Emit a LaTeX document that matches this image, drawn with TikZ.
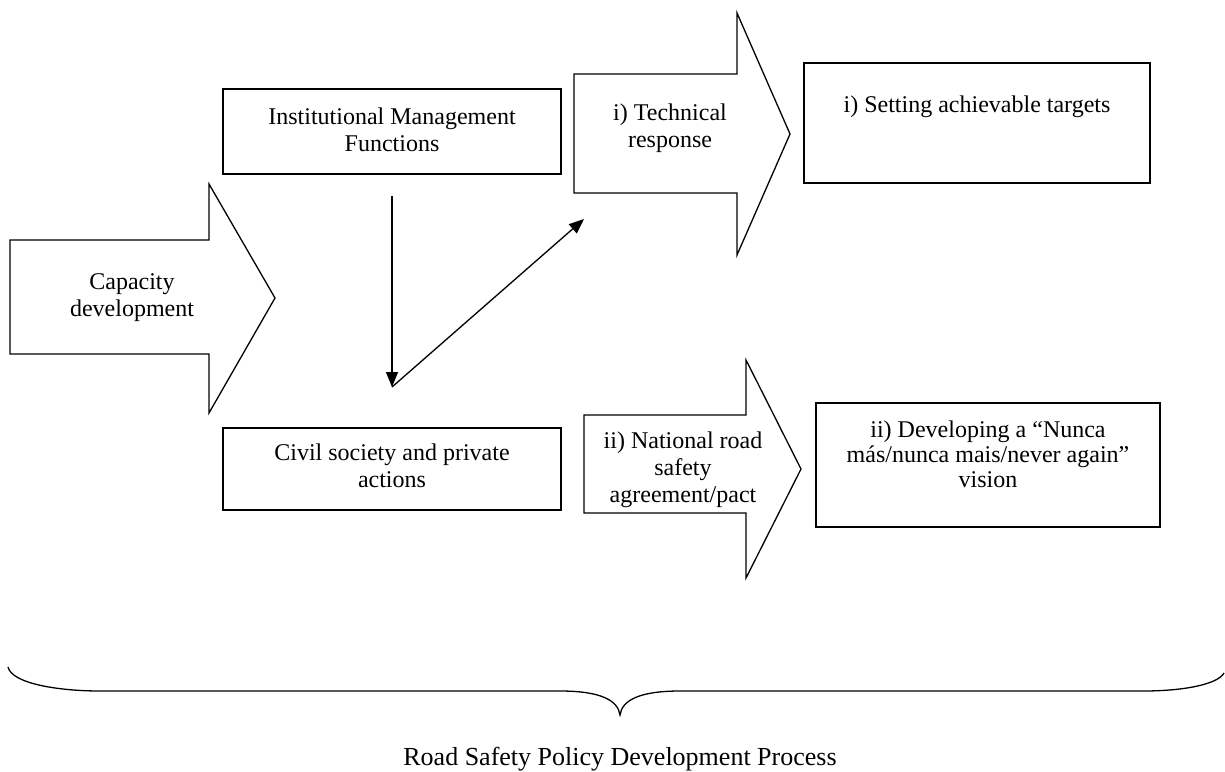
\documentclass[tikz,border=0pt]{standalone}
\usepackage{fontspec}
\setmainfont{Liberation Serif}
\usetikzlibrary{arrows.meta}
\begin{document}
\begin{tikzpicture}[x=1pt,y=-1pt,
  shape line/.style={draw=black,line width=1.3pt,line join=miter},
  txt/.style={align=center,font=\fontsize{24}{27}\selectfont,inner sep=0pt,anchor=base},
  conn/.style={draw=black,line width=1.3pt,-{Triangle[length=15pt,width=12pt]}}]
\useasboundingbox (0,0) rectangle (1225,771);
% block arrows
\draw[shape line] (10,240) -- (209,240) -- (209,184) -- (275,298) -- (209,413) -- (209,354) -- (10,354) -- cycle;
\node[txt] (cap) at (132,316) {Capacity\\development};
\draw[shape line] (574,74) -- (737,74) -- (737,13) -- (790,134) -- (737,255) -- (737,193) -- (574,193) -- cycle;
\node[txt] (tech) at (670,147) {i) Technical\\response};
\draw[shape line] (584,415) -- (746,415) -- (746,360) -- (801,469) -- (746,578) -- (746,513) -- (584,513) -- cycle;
\node[txt] (nat) at (683,502) {ii) National road\\safety\\agreement/pact};
% boxes
\draw[shape line] (223,89) rectangle (561,174);
\node[txt] (inst) at (392,151) {Institutional Management\\Functions};
\draw[shape line] (804,63) rectangle (1150,183);
\node[txt] (set) at (977,112) {i) Setting achievable targets};
\draw[shape line] (223,428) rectangle (561,510);
\node[txt] (civ) at (392,487) {Civil society and private\\actions};
\draw[shape line] (816,403) rectangle (1160,527);
\node[txt,font=\fontsize{24}{25}\selectfont] (dev) at (988,487) {ii) Developing a “Nunca\\más/nunca mais/never again”\\vision};
% connectors
\coordinate (vtop) at (392,196);
\coordinate (vbot) at (392,387);
\coordinate (dtip) at (584,219);
\draw[conn] (vtop) -- (vbot);
\draw[conn] (vbot) -- (dtip);
% brace
\draw[line width=1.3pt] (8,667) .. controls (12,684) and (60,691) .. (100,691) -- (560,691)
  .. controls (600,691) and (618,700) .. (620,715)
  .. controls (622,700) and (640,691) .. (680,691) -- (1143,691)
  .. controls (1185,691) and (1218,684) .. (1224,673);
\node[txt,font=\fontsize{26}{30}\selectfont] (title) at (620,765) {Road Safety Policy Development Process};
\end{tikzpicture}
\end{document}
